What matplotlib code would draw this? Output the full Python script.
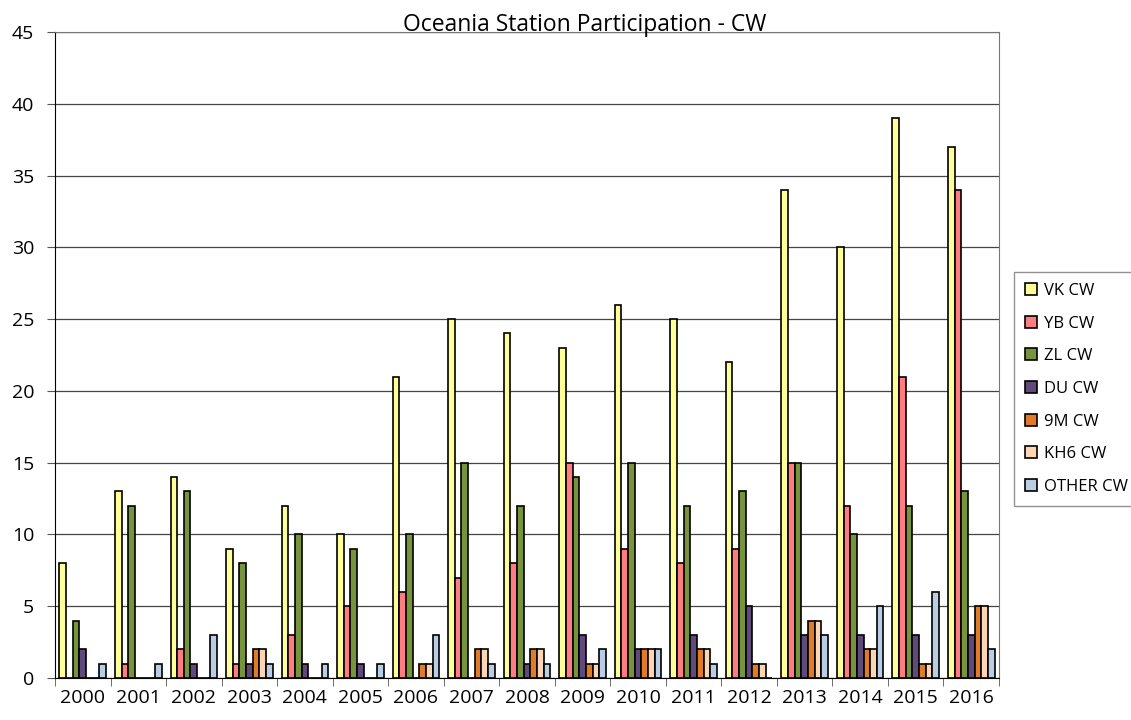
import numpy as np
import matplotlib.pyplot as plt
from matplotlib.ticker import MultipleLocator

plt.rcParams['font.family'] = ['Open Sans', 'DejaVu Sans']

years = [str(y) for y in range(2000, 2017)]
series = ['VK CW', 'YB CW', 'ZL CW', 'DU CW', '9M CW', 'KH6 CW', 'OTHER CW']
vk = [8, 13, 14, 9, 12, 10, 21, 25, 24, 23, 26, 25, 22, 34, 30, 39, 37]
yb = [0, 1, 2, 1, 3, 5, 6, 7, 8, 15, 9, 8, 9, 15, 12, 21, 34]
zl = [4, 12, 13, 8, 10, 9, 10, 15, 12, 14, 15, 12, 13, 15, 10, 12, 13]
du = [2, 0, 1, 1, 1, 1, 0, 0, 1, 3, 2, 3, 5, 3, 3, 3, 3]
m9 = [0, 0, 0, 2, 0, 0, 1, 2, 2, 1, 2, 2, 1, 4, 2, 1, 5]
kh6 = [0, 0, 0, 2, 0, 0, 1, 2, 2, 1, 2, 2, 1, 4, 2, 1, 5]
other = [1, 1, 3, 1, 1, 1, 3, 1, 1, 2, 2, 1, 0, 3, 5, 6, 2]
colors = ['#FFFF99', '#FF7C80', '#77933C', '#604A7B', '#E07B28', '#FCD5B5', '#B9CDE5']

data = [vk, yb, zl, du, m9, kh6, other]

fig = plt.figure(figsize=(11.31, 7.2), dpi=100)
ax = fig.add_axes([55 / 1131, 1 - 678 / 720, 944 / 1131, 646 / 720])

x = np.arange(len(years))
w = 0.12
for i, (vals, name, c) in enumerate(zip(data, series, colors)):
    ax.bar(x + (i - 3) * w, vals, w, color=c, edgecolor='black', linewidth=1.2,
           label=name, zorder=3)

ax.set_xlim(-0.5, len(years) - 0.5)
ax.set_ylim(0, 45)
ax.yaxis.set_major_locator(MultipleLocator(5))
ax.grid(axis='y', color='#444444', linewidth=0.9, zorder=0)
ax.set_xticks(x)
ax.set_xticklabels(years)
ax.set_xticks(np.arange(-0.5, len(years)), minor=True)
ax.tick_params(axis='x', which='major', length=0, labelsize=14, pad=8)
ax.tick_params(axis='x', which='minor', length=6, color='#555555')
ax.tick_params(axis='y', length=6, labelsize=14, color='#555555', pad=9)
for s in ['top', 'right']:
    ax.spines[s].set_color('#777777')
ax.spines['left'].set_color('black')
ax.spines['bottom'].set_color('black')

fig.text(585 / 1131, 1 - 31 / 720, 'Oceania Station Participation - CW',
         ha='center', va='baseline', fontsize=16.5)

leg = ax.legend(loc='upper left', bbox_to_anchor=(1014 / 1131, 1 - 272 / 720),
                bbox_transform=fig.transFigure, fontsize=12, frameon=True,
                fancybox=False, edgecolor='#777777', handlelength=0.75,
                handleheight=0.75, handletextpad=0.4, labelspacing=1.0,
                borderpad=0.65, borderaxespad=0)
leg.get_frame().set_linewidth(1.0)

fig.savefig('out.png', dpi=100)
